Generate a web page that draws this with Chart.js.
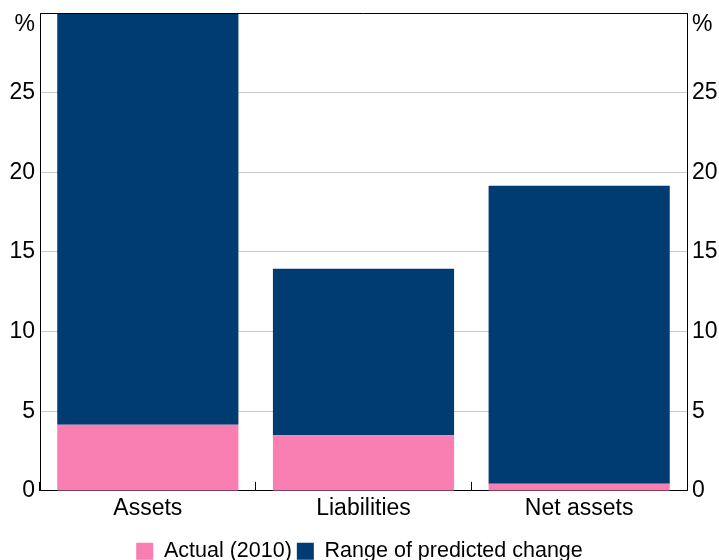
<!DOCTYPE html>
<html>
<head>
<meta charset="utf-8">
<script src="https://cdn.jsdelivr.net/npm/chart.js@4"></script>
<style>
  html, body { margin: 0; padding: 0; background: #fff; }
  #wrap { width: 719px; height: 560px; }
</style>
</head>
<body>
<div id="wrap"><canvas id="myChart" width="719" height="560"></canvas></div>
<script>
// categories along the x-axis
var categories = ["Assets", "Liabilities", "Net assets"];
// stacked series (per cent)
var actual = [4.15, 3.5, 0.45];
var predictedRange = [25.85, 10.45, 18.7];
// y-axis ticks
var yMin = 0, yMax = 30, yStep = 5;

Chart.defaults.font.family = "'Liberation Sans', Arial, sans-serif";
Chart.defaults.color = "#000";

// frame on top of the plot area and the % units at the top of each axis
var framePlugin = {
  id: "frame",
  afterDatasetsDraw: function (chart) {
    var a = chart.chartArea, c = chart.ctx;
    c.save();
    c.strokeStyle = "#000";
    c.lineWidth = 1;
    c.beginPath();
    c.moveTo(a.left, a.top + 0.5);
    c.lineTo(a.right, a.top + 0.5);
    c.stroke();
    c.fillStyle = "#000";
    c.font = "23px 'Liberation Sans', Arial, sans-serif";
    c.textBaseline = "middle";
    c.textAlign = "right";
    c.fillText("%", a.left - 5, a.top + 12);
    c.textAlign = "left";
    c.fillText("%", a.right + 5, a.top + 12);
    c.restore();
  }
};

function noPad(s) { s.paddingTop = 0; s.paddingBottom = 0; }

var ctx = document.getElementById("myChart");
new Chart(ctx, {
  type: "bar",
  data: {
    labels: categories,
    datasets: [
      {
        label: "Actual (2010)",
        data: actual,
        backgroundColor: "#F97EB2"
      },
      {
        label: "Range of predicted change",
        data: predictedRange,
        backgroundColor: "#003C71"
      }
    ]
  },
  options: {
    responsive: false,
    animation: false,
    layout: { padding: { top: 13, bottom: -12 } },
    datasets: { bar: { categoryPercentage: 1, barPercentage: 0.84 } },
    plugins: {
      legend: {
        position: "bottom",
        labels: { boxWidth: 17, boxHeight: 17, padding: 5, font: { size: 21.5 } }
      },
      tooltip: { enabled: false }
    },
    scales: {
      x: {
        stacked: true,
        grid: { drawOnChartArea: false, offset: true, color: "#000", tickLength: -9 },
        border: { color: "#000" },
        ticks: { padding: 13, font: { size: 23 } }
      },
      y: {
        stacked: true,
        position: "left",
        min: yMin, max: yMax,
        grid: { color: "#C8C8C8", drawTicks: false },
        border: { color: "#000" },
        ticks: {
          stepSize: yStep, padding: 5, font: { size: 23 },
          callback: function (v) { return v === yMax ? "" : v; }
        },
        afterFit: function (s) { s.width = 40; noPad(s); }
      },
      y2: {
        position: "right",
        min: yMin, max: yMax,
        grid: { display: false, drawTicks: false },
        border: { color: "#000" },
        ticks: {
          stepSize: yStep, padding: 5, font: { size: 23 },
          callback: function (v) { return v === yMax ? "" : v; }
        },
        afterFit: function (s) { s.width = 32; noPad(s); }
      }
    }
  },
  plugins: [framePlugin]
});
</script>
</body>
</html>
